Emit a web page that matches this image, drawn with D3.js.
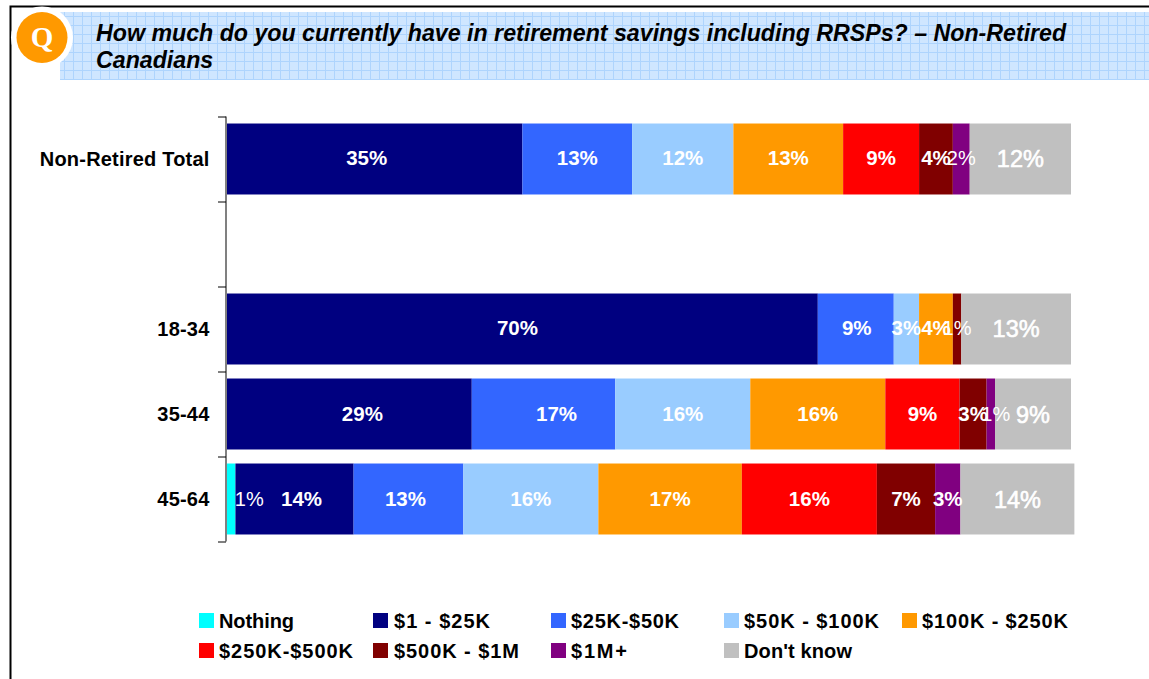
<!DOCTYPE html>
<html><head><meta charset="utf-8">
<script src="https://cdn.jsdelivr.net/npm/d3@7"></script>
<style>html,body{margin:0;padding:0;background:#fff}svg{display:block}text{font-family:"Liberation Sans",Arial,sans-serif}</style>
</head><body><svg id="c" width="1149" height="679"></svg>
<script>
const categories = ["Non-Retired Total", "gap", "18-34", "35-44", "45-64"];
const seriesNames = ["Nothing", "$1 - $25K", "$25K-$50K", "$50K - $100K", "$100K - $250K", "$250K-$500K", "$500K - $1M", "$1M+", "Don't know"];
const seriesColors = ["#00ffff", "#000080", "#3366ff", "#99ccff", "#ff9900", "#ff0000", "#800000", "#800080", "#c0c0c0"];
const totalValues = [0, 35, 13, 12, 13, 9, 4, 2, 12];
const age1834Values = [0, 70, 9, 3, 4, 0, 1, 0, 13];
const age3544Values = [0, 29, 17, 16, 16, 8.8, 3.2, 1, 9];
const age4564Values = [1, 14, 13, 16, 17, 16, 6.9, 3, 13.5];
const title = ["How much do you currently have in retirement savings including RRSPs? – Non-Retired", "Canadians"];

// label placement tweaks, kept apart from the data
const rows = [
  {cat: "Non-Retired Total", values: totalValues, nudge: [0,-8,0,0,0,0,0,0,0], dy: 6},
  {cat: "18-34", values: age1834Values, nudge: [0,-5,1,0,0,0,0,0,0], dy: 6},
  {cat: "35-44", values: age3544Values, nudge: [0,13,13,0,0,0,0,5,0], dy: 7},
  {cat: "45-64", values: age4564Values, nudge: [18,7,-3,0,0,0,0,0,0], dy: 7}
];
const legendWidths = [75, 96, 108, 135, 146, 134, 125, 56, 108];
const legendX = [199, 374, 551, 724, 902];

const svg = d3.select("#c");
const defs = svg.append("defs");
const pat = defs.append("pattern").attr("id","grid").attr("patternUnits","userSpaceOnUse").attr("width",9).attr("height",9).attr("x",60).attr("y",12);
pat.append("rect").attr("width",9).attr("height",9).attr("fill","#cfe6ff");
pat.append("path").attr("d","M0 4.5H9M4.5 0V9").attr("stroke","#aed4fd").attr("fill","none");

svg.append("path").attr("d","M10.5 679V6.5H1149").attr("fill","none").attr("stroke","#000").attr("stroke-width",2);
svg.append("rect").attr("x",60).attr("y",12).attr("width",1089).attr("height",68).attr("fill","url(#grid)");
svg.append("circle").attr("cx",42).attr("cy",37.5).attr("r",31).attr("fill","#fff");
svg.append("circle").attr("cx",42).attr("cy",37.5).attr("r",25.5).attr("fill","#ff9900");
svg.append("text").attr("x",42).attr("y",47).attr("text-anchor","middle").attr("fill","#fff")
  .style("font-family","'Liberation Serif',serif").style("font-size","29px").style("font-weight","700").text("Q");
svg.selectAll("text.t").data(title).join("text").attr("class","t").attr("x",96).attr("y",(d,i)=>41+i*27)
  .style("font-size","23.2px").style("font-weight","700").style("font-style","italic").text(d=>d);

const x = d3.scaleLinear().domain([0,100]).range([227,1071]);
const y = d3.scaleBand().domain(categories).range([116.5,541.5]).paddingInner(0.165).paddingOuter(0.0825);

const g = svg.append("g");
rows.forEach(r=>{
  let cum=0;
  r.values.forEach((v,i)=>{
    if(!v) return;
    const x0=x(cum), x1=x(cum+v); cum+=v;
    g.append("rect").attr("x",x0).attr("y",y(r.cat)).attr("width",x1-x0).attr("height",y.bandwidth()).attr("fill",seriesColors[i]);
  });
});
rows.forEach(r=>{
  let cum=0;
  r.values.forEach((v,i)=>{
    if(!v) return;
    const c=x(cum+v/2)+r.nudge[i]; cum+=v;
    const big = i===8, bold = !big && v>=3;
    const t = g.append("text").attr("x",c).attr("y",y(r.cat)+y.bandwidth()/2+r.dy+(big?2:0)).attr("text-anchor","middle").attr("fill","#fff")
     .style("font-size", big?"23.5px":(bold?"20.5px":"20px")).style("font-weight", bold?"700":"400").text(Math.round(v)+"%");
    if(big) t.attr("stroke","#fff").attr("stroke-width",0.6);
  });
});

const axis = d3.axisLeft(d3.scaleLinear().domain([0,5]).range([116.5,541.5])).ticks(5).tickSize(8).tickFormat("");
const ax = svg.append("g").attr("transform","translate(226,0)").call(axis);
ax.select(".domain").attr("stroke","#808080").attr("stroke-width",2).attr("d","M0 116.5V541.5");
ax.selectAll(".tick line").attr("stroke","#000");
rows.forEach(r=>{
  svg.append("text").attr("x",209.5).attr("y",y(r.cat)+y.bandwidth()/2+7).attr("text-anchor","end")
    .style("font-size","20px").style("font-weight","700").style("letter-spacing","0.2px").text(r.cat);
});

seriesNames.forEach((n,i)=>{
  const col=i%5,row=Math.floor(i/5);
  const lg=svg.append("g").attr("transform",`translate(${legendX[col]},${613+row*30})`);
  lg.append("rect").attr("x",col===1?-1:0).attr("width",15).attr("height",15).attr("fill",seriesColors[i]);
  lg.append("text").attr("x",20).attr("y",15).attr("textLength",legendWidths[i]).attr("lengthAdjust","spacing")
    .style("font-size","20px").style("font-weight","700").text(n);
});
</script></body></html>
